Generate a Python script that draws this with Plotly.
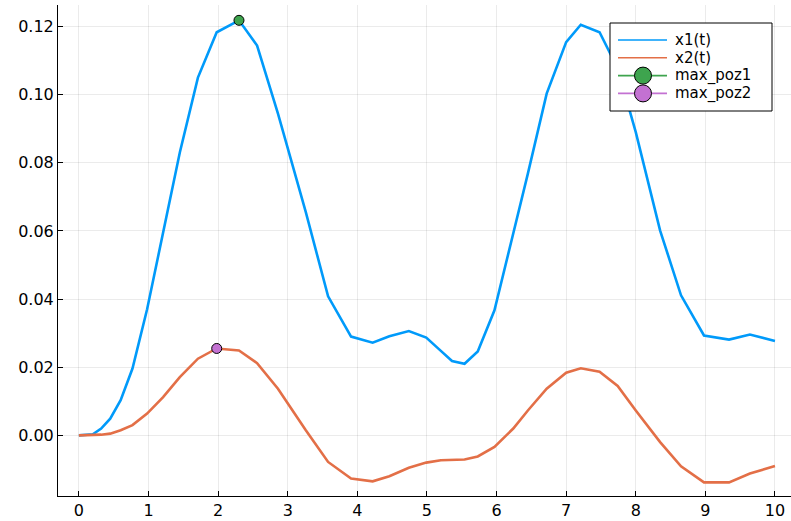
import numpy as np
import plotly.graph_objects as go

# Solver time grid and the two state trajectories
t = [0.0, 0.20, 0.32, 0.45, 0.60, 0.77, 0.98, 1.21, 1.45, 1.71, 1.98, 2.30, 2.56,
     2.86, 3.26, 3.58, 3.91, 4.22, 4.46, 4.74, 4.99, 5.20, 5.36, 5.54, 5.73, 5.97,
     6.24, 6.45, 6.72, 7.00, 7.21, 7.48, 7.74, 8.00, 8.35, 8.65, 8.98, 9.34, 9.64, 10.0]

x1 = [0.0, 0.0003, 0.0020, 0.0049, 0.0103, 0.0196, 0.0370, 0.0600, 0.0830, 0.1050,
      0.1183, 0.1218, 0.1144, 0.0944, 0.0655, 0.0408, 0.0290, 0.0272, 0.0291, 0.0306,
      0.0287, 0.0248, 0.0218, 0.0210, 0.0246, 0.0367, 0.0592, 0.0768, 0.1003, 0.1154,
      0.1205, 0.1183, 0.1077, 0.0890, 0.0601, 0.0411, 0.0293, 0.0281, 0.0296, 0.0277]

x2 = [0.0, 0.0000, 0.0002, 0.0005, 0.0015, 0.0030, 0.0064, 0.0112, 0.0171, 0.0225,
      0.0255, 0.0249, 0.0212, 0.0137, 0.0015, -0.0078, -0.0127, -0.0135, -0.0120, -0.0095,
      -0.0080, -0.0073, -0.0072, -0.0071, -0.0062, -0.0034, 0.0020, 0.0073, 0.0137, 0.0184,
      0.0197, 0.0187, 0.0145, 0.0073, -0.0020, -0.0091, -0.0138, -0.0138, -0.0112, -0.0090]

x_ticks = list(range(0, 11))
y_ticks = [0.00, 0.02, 0.04, 0.06, 0.08, 0.10, 0.12]

series_names = ["x1(t)", "x2(t)", "max_poz1", "max_poz2"]

BLUE = "#009AFA"
ORANGE = "#E36F47"
GREEN = "#3EA44E"
PURPLE = "#C371D2"
FONT = "DejaVu Sans"

W, H = 791, 521
ML, MR, MT, MB = 58, 0, 5, 25
PW, PH = W - ML - MR, H - MT - MB


def px_x(px):
    """Pixel column -> paper x."""
    return (px - ML) / PW


def px_y(py):
    """Pixel row (from top) -> paper y."""
    return (H - MB - py) / PH


# positions of the maxima
i1 = int(np.argmax(x1))
i2 = int(np.argmax(x2))

fig = go.Figure()

fig.add_trace(go.Scatter(x=t, y=x1, mode="lines", name=series_names[0],
                         line=dict(color=BLUE, width=2.6), showlegend=False))
fig.add_trace(go.Scatter(x=t, y=x2, mode="lines", name=series_names[1],
                         line=dict(color=ORANGE, width=2.6), showlegend=False))
fig.add_trace(go.Scatter(x=[t[i1]], y=[x1[i1]], mode="markers", name=series_names[2],
                         marker=dict(color=GREEN, size=10, line=dict(color="black", width=1)),
                         showlegend=False))
fig.add_trace(go.Scatter(x=[t[i2]], y=[x2[i2]], mode="markers", name=series_names[3],
                         marker=dict(color=PURPLE, size=10, line=dict(color="black", width=1)),
                         showlegend=False))

# compact legend box in the upper right corner
ROW0, ROW_STEP = 40, 17.8
shapes = [dict(type="rect", xref="paper", yref="paper", layer="above",
               x0=px_x(610), x1=px_x(772), y0=px_y(111), y1=px_y(23),
               fillcolor="white", line=dict(color="black", width=1))]
annotations = []
legend_style = [(BLUE, False), (ORANGE, False), (GREEN, True), (PURPLE, True)]
for k, (name, (color, has_marker)) in enumerate(zip(series_names, legend_style)):
    yc = px_y(ROW0 + ROW_STEP * k)
    shapes.append(dict(type="line", xref="paper", yref="paper", layer="above",
                       x0=px_x(618), x1=px_x(667), y0=yc, y1=yc,
                       line=dict(color=color, width=1.6)))
    if has_marker:
        shapes.append(dict(type="circle", xref="paper", yref="paper", layer="above",
                           xsizemode="pixel", ysizemode="pixel",
                           xanchor=px_x(643), yanchor=yc,
                           x0=-8.5, x1=8.5, y0=-8.5, y1=8.5,
                           fillcolor=color, line=dict(color="black", width=1)))
    annotations.append(dict(xref="paper", yref="paper", x=px_x(674), y=yc,
                            xanchor="left", yanchor="middle", showarrow=False,
                            borderpad=0,
                            text=name, font=dict(family=FONT, size=15, color="black")))

axis_common = dict(
    showgrid=True, gridcolor="rgba(0,0,0,0.08)", gridwidth=1,
    showline=True, linecolor="black", linewidth=1,
    ticks="inside", ticklen=5, tickcolor="black", tickwidth=1,
    zeroline=False, tickfont=dict(family=FONT, size=16, color="black"),
)

fig.update_layout(
    width=W, height=H,
    margin=dict(l=ML, r=MR, t=MT, b=MB),
    paper_bgcolor="white", plot_bgcolor="white",
    xaxis=dict(range=[-0.3, 10.23], tickvals=x_ticks, **axis_common),
    yaxis=dict(range=[-0.0178, 0.1263], tickvals=y_ticks,
               ticktext=[f"{v:.2f}" for v in y_ticks], **axis_common),
    showlegend=False,
    shapes=shapes,
    annotations=annotations,
    font=dict(family=FONT),
)

fig.write_html("out.html")
